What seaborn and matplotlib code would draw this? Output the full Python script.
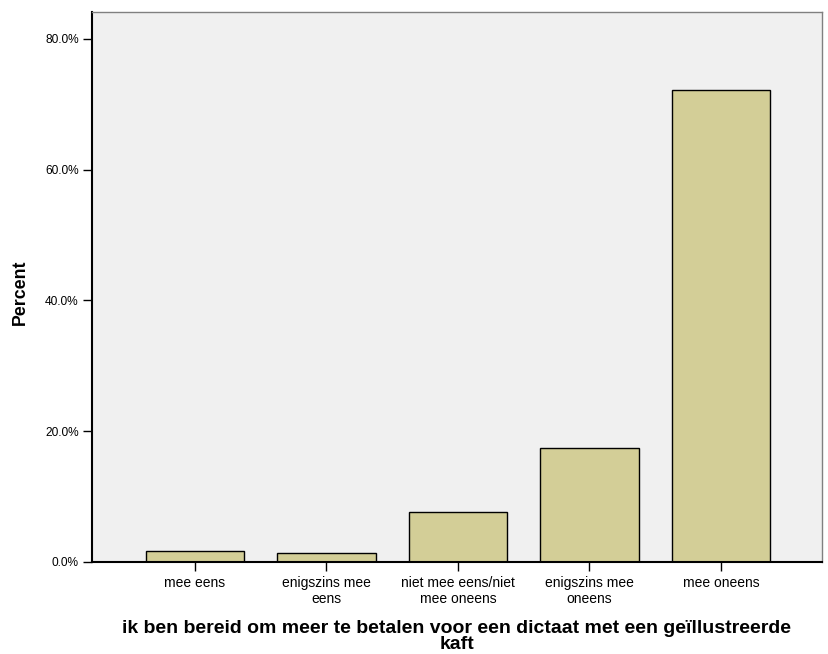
import pandas as pd
import matplotlib.pyplot as plt
import matplotlib.ticker as mticker
import seaborn as sns

# Categorieen en percentages
categorieen = ["mee eens", "enigszins mee\neens", "niet mee eens/niet\nmee oneens",
               "enigszins mee\noneens", "mee oneens"]
percentages = [1.73, 1.33, 7.6, 17.36, 72.1]

df = pd.DataFrame({"antwoord": categorieen, "percent": percentages})

sns.set_style("white")
plt.rcParams["font.family"] = ["Liberation Sans", "DejaVu Sans"]
plt.rcParams["text.color"] = "black"
plt.rcParams["axes.labelcolor"] = "black"
plt.rcParams["xtick.color"] = "black"
plt.rcParams["ytick.color"] = "black"

fig = plt.figure(figsize=(8.29, 6.54), dpi=100)
ax = fig.add_axes([0.111, 0.1407, 0.8805, 0.841])
ax.set_facecolor("#F0F0F0")

sns.barplot(data=df, x="antwoord", y="percent", color="#D3CE97",
            edgecolor="black", linewidth=1.0, width=0.75, saturation=1, ax=ax)

ax.set_ylim(0, 84.1)
ax.set_xlim(-0.783, 4.768)
ax.set_yticks([0, 20, 40, 60, 80])
ax.yaxis.set_major_formatter(mticker.FuncFormatter(lambda v, p: f"{v:.1f}%"))
ax.tick_params(axis="both", direction="out", length=6.5, width=1, color="black",
               left=True, bottom=True)
ax.tick_params(axis="y", labelsize=8.6, pad=3)
ax.tick_params(axis="x", labelsize=10, pad=3.5)

for s in ["left", "bottom"]:
    ax.spines[s].set_color("black")
    ax.spines[s].set_linewidth(1.5)
for s in ["top", "right"]:
    ax.spines[s].set_color("#808080")
    ax.spines[s].set_linewidth(1.0)

ax.set_ylabel("Percent", fontsize=12.8, fontweight="bold")
ax.yaxis.set_label_coords(-0.086, 0.49)
ax.set_xlabel("ik ben bereid om meer te betalen voor een dictaat met een geïllustreerde\nkaft",
              fontsize=14, fontweight="bold", linespacing=0.98)
ax.xaxis.set_label_coords(0.5, -0.105)
ax.xaxis.label.set_va("top")

fig.savefig("out.png", dpi=100)
